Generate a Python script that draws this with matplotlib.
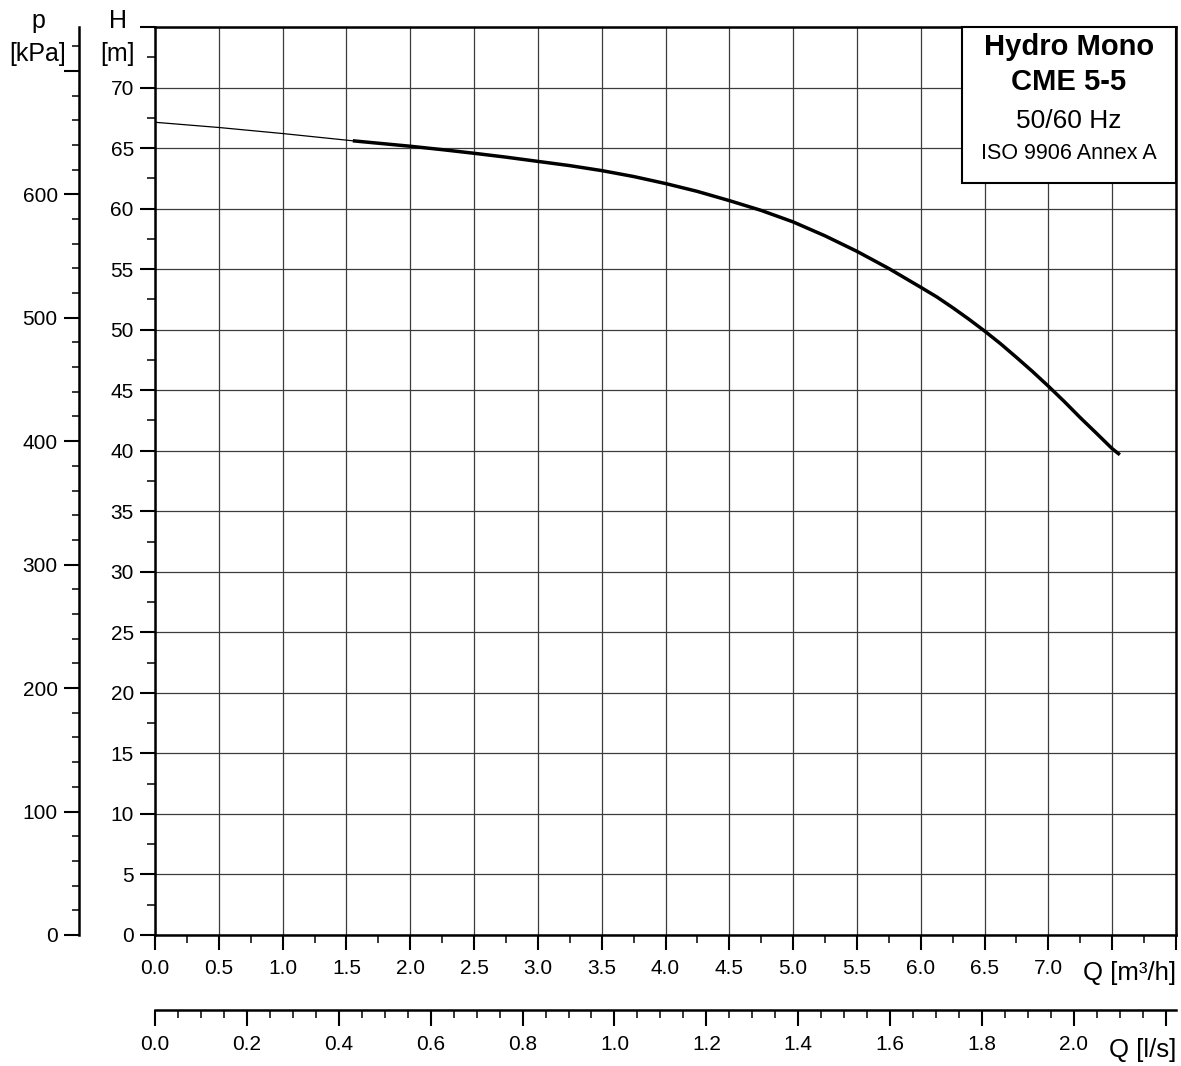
import matplotlib
matplotlib.use("Agg")
import matplotlib.pyplot as plt
from matplotlib.ticker import MultipleLocator
from matplotlib.patches import Rectangle

plt.rcParams['font.family'] = ['Liberation Sans', 'DejaVu Sans']

# ---------------- data ----------------
q_thin = [0.0, 0.5, 1.0, 1.55]
h_thin = [67.13, 66.7, 66.2, 65.6]

q_curve = [1.55, 2.0, 2.25, 2.5, 2.75, 3.0, 3.25, 3.5, 3.75, 4.0, 4.25, 4.5,
           4.75, 5.0, 5.25, 5.5, 5.75, 6.0, 6.125, 6.25, 6.375, 6.5, 6.625,
           6.75, 6.875, 7.0, 7.125, 7.25, 7.375, 7.5, 7.56]
h_curve = [65.6, 65.15, 64.87, 64.57, 64.25, 63.9, 63.55, 63.14, 62.65, 62.07,
           61.42, 60.66, 59.85, 58.9, 57.75, 56.47, 55.05, 53.5, 52.71, 51.82,
           50.88, 49.89, 48.84, 47.71, 46.55, 45.33, 44.06, 42.73, 41.46,
           40.17, 39.67]

q_ticks = [0.0, 0.5, 1.0, 1.5, 2.0, 2.5, 3.0, 3.5, 4.0, 4.5, 5.0, 5.5, 6.0,
           6.5, 7.0, 7.5, 8.0]
q_labels = ['0.0', '0.5', '1.0', '1.5', '2.0', '2.5', '3.0', '3.5', '4.0',
            '4.5', '5.0', '5.5', '6.0', '6.5', '7.0', '', '']
h_ticks = [0, 5, 10, 15, 20, 25, 30, 35, 40, 45, 50, 55, 60, 65, 70, 75]
h_labels = ['0', '5', '10', '15', '20', '25', '30', '35', '40', '45', '50',
            '55', '60', '65', '70', '']
p_ticks = [0, 100, 200, 300, 400, 500, 600, 700]
p_labels = ['0', '100', '200', '300', '400', '500', '600', '']
ls_ticks = [0.0, 0.2, 0.4, 0.6, 0.8, 1.0, 1.2, 1.4, 1.6, 1.8, 2.0, 2.2]
ls_labels = ['0.0', '0.2', '0.4', '0.6', '0.8', '1.0', '1.2', '1.4', '1.6',
             '1.8', '2.0', '']

title_lines = ['Hydro Mono', 'CME 5-5', '50/60 Hz', 'ISO 9906 Annex A']

# ---------------- layout ----------------
W, H = 1181, 1066
fig = plt.figure(figsize=(W / 100, H / 100), dpi=100)
L, R, T, B = 155, 1176, 27, 935
ax = fig.add_axes([L / W, 1 - B / H, (R - L) / W, (B - T) / H])
ax.set_xlim(0, 8)
ax.set_ylim(0, 75)

TICK_FS = 15

for s in ax.spines.values():
    s.set_linewidth(1.8)
    s.set_color('black')

ax.set_xticks(q_ticks, labels=q_labels)
ax.set_yticks(h_ticks, labels=h_labels)
ax.xaxis.set_minor_locator(MultipleLocator(0.25))
ax.yaxis.set_minor_locator(MultipleLocator(2.5))
ax.tick_params(which='major', direction='out', length=10.8, width=1.5,
               labelsize=TICK_FS, color='black')
ax.tick_params(which='minor', direction='out', length=5.6, width=1.1,
               color='black')
ax.tick_params(axis='x', which='major', pad=6.5)
ax.tick_params(axis='y', which='major', pad=4.5)
ax.grid(True, which='major', color='#3c3c3c', linewidth=0.9)
ax.set_axisbelow(True)

ax.plot(q_thin, h_thin, color='black', linewidth=0.9, zorder=3)
ax.plot(q_curve, h_curve, color='black', linewidth=2.5, zorder=4,
        solid_capstyle='butt', solid_joinstyle='round')

# pressure axis
def h2p(h):
    return h * 9.80665

def p2h(p):
    return p / 9.80665

secp = ax.secondary_yaxis((79 - L) / (R - L), functions=(h2p, p2h))
secp.set_yticks(p_ticks, labels=p_labels)
secp.yaxis.set_minor_locator(MultipleLocator(20))
secp.tick_params(which='major', direction='out', length=10.8, width=1.5,
                 labelsize=TICK_FS, pad=4.5)
secp.tick_params(which='minor', direction='out', length=5.0, width=1.1)
for s in secp.spines.values():
    s.set_linewidth(1.8)

# l/s axis
def m3h2ls(q):
    return q / 3.6

def ls2m3h(q):
    return q * 3.6

secq = ax.secondary_xaxis(-(1010 - B) / (B - T), functions=(m3h2ls, ls2m3h))
secq.set_xticks(ls_ticks, labels=ls_labels)
secq.xaxis.set_minor_locator(MultipleLocator(0.05))
secq.tick_params(which='major', direction='out', length=11.2, width=1.5,
                 labelsize=TICK_FS, pad=6.5)
secq.tick_params(which='minor', direction='out', length=5.8, width=1.1)
for s in secq.spines.values():
    s.set_linewidth(1.8)

# axis titles
def ft(x, y, s, **kw):
    fig.text(x / W, 1 - y / H, s, **kw)

ft(38, 28, 'p', ha='center', va='baseline', fontsize=18)
ft(38, 61, '[kPa]', ha='center', va='baseline', fontsize=18)
ft(118, 28, 'H', ha='center', va='baseline', fontsize=18)
ft(118, 61, '[m]', ha='center', va='baseline', fontsize=18)
ft(1176, 980, 'Q [m³/h]', ha='right', va='baseline', fontsize=18.5)
ft(1176, 1057, 'Q [l/s]', ha='right', va='baseline', fontsize=18.5)

# title box
bx0, by0 = (962 - L) / (R - L), (B - 183) / (B - T)
ax.add_patch(Rectangle((bx0, by0), 1 - bx0, 1 - by0, transform=ax.transAxes,
                       facecolor='white', edgecolor='black', linewidth=1.5,
                       zorder=5, clip_on=False))
cx = 1069
ft(cx, 55, title_lines[0], ha='center', va='baseline', fontsize=21,
   fontweight='bold', zorder=6)
ft(cx, 90, title_lines[1], ha='center', va='baseline', fontsize=21,
   fontweight='bold', zorder=6)
ft(cx, 128, title_lines[2], ha='center', va='baseline', fontsize=19,
   zorder=6)
ft(cx, 159, title_lines[3], ha='center', va='baseline', fontsize=15.5,
   zorder=6)

fig.savefig('out.png', dpi=100, facecolor='white')
